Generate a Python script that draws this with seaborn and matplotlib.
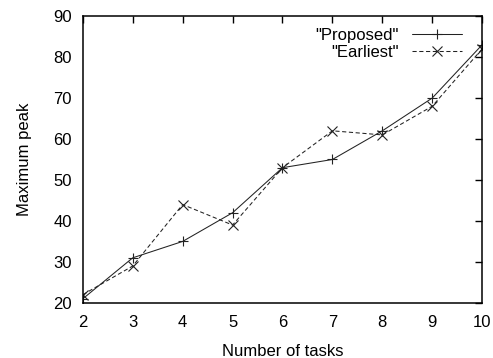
import matplotlib
matplotlib.use("Agg")
import matplotlib.pyplot as plt
import seaborn as sns
import pandas as pd

# Maximum peak per number of tasks for the two scheduling strategies
tasks = [2, 3, 4, 5, 6, 7, 8, 9, 10]
proposed = [21, 31, 35, 42, 53, 55, 62, 70, 83]
earliest = [22, 29, 44, 39, 53, 62, 61, 68, 82]
series_names = ['"Proposed"', '"Earliest"']
y_ticks = [20, 30, 40, 50, 60, 70, 80, 90]

df = pd.DataFrame({
    "tasks": tasks * 2,
    "peak": proposed + earliest,
    "series": [series_names[0]] * len(tasks) + [series_names[1]] * len(tasks),
})

FS = 12
sns.set_style("white")
plt.rcParams["font.family"] = ["Liberation Sans", "DejaVu Sans"]
plt.rcParams["font.size"] = FS
plt.rcParams["text.color"] = "black"
plt.rcParams["axes.labelcolor"] = "black"

fig = plt.figure(figsize=(4.93, 3.58), dpi=100)
ax = fig.add_axes([0.168, 0.154, 0.810, 0.801])

ink = "#222222"
sns.lineplot(
    data=df, x="tasks", y="peak", hue="series", style="series",
    palette={series_names[0]: ink, series_names[1]: ink},
    markers={series_names[0]: "+", series_names[1]: "x"},
    dashes={series_names[0]: "", series_names[1]: (4, 2.5)},
    linewidth=0.75, markersize=7, markeredgewidth=0.8,
    markeredgecolor=ink,
    ax=ax,
)

ax.set_xlim(2, 10)
ax.set_ylim(20, 90)
ax.set_xticks(tasks)
ax.set_yticks(y_ticks)
ax.set_xlabel("Number of tasks", fontsize=FS, labelpad=10)
ax.set_ylabel("Maximum peak", fontsize=FS, labelpad=15)

for s in ax.spines.values():
    s.set_visible(True)
    s.set_color("black")
    s.set_linewidth(1.1)
ax.tick_params(direction="in", length=5, width=1.0, top=True, right=True,
               labelsize=FS, colors="black")
ax.tick_params(axis="x", pad=9)
ax.tick_params(axis="y", pad=8)

handles, labels = ax.get_legend_handles_labels()
for h in handles:
    h.set_markeredgecolor(ink)
ax.legend(handles, labels, loc="upper right", bbox_to_anchor=(0.95, 0.96),
          frameon=False, markerfirst=False, handlelength=3.0,
          handletextpad=0.8, labelspacing=0.15, borderaxespad=0.0,
          borderpad=0.0, fontsize=FS)

fig.savefig("out.png", dpi=100)
